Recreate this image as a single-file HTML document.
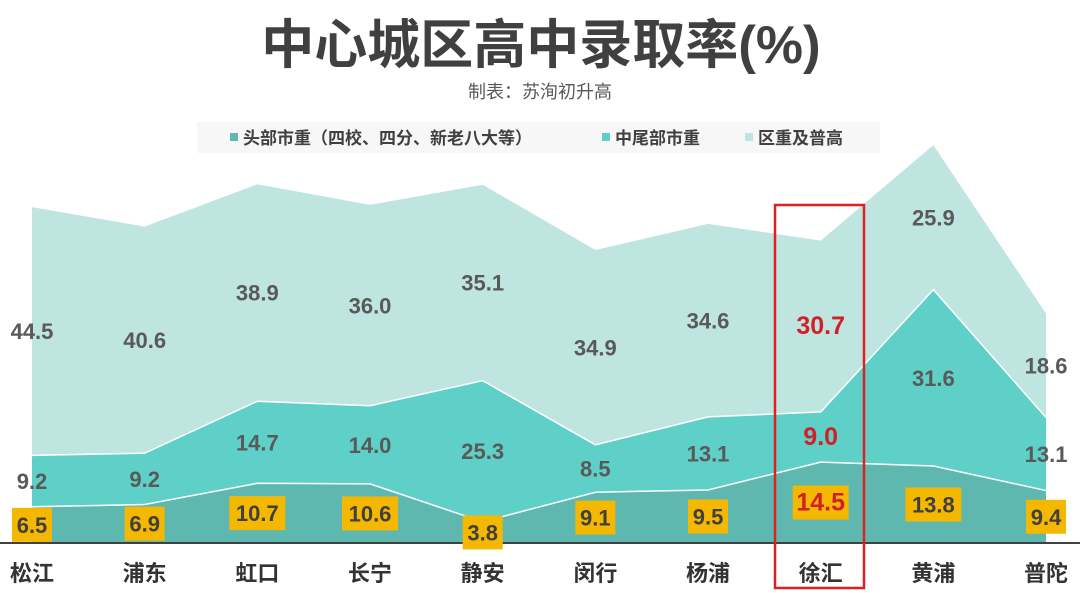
<!DOCTYPE html>
<html><head><meta charset="utf-8"><style>
html,body{margin:0;padding:0;background:#fff;width:1080px;height:593px;overflow:hidden}
svg text{font-family:"Liberation Sans","Noto Sans CJK SC",sans-serif}
</style></head><body>
<svg id="s" width="1080" height="593" xmlns="http://www.w3.org/2000/svg">
<text x="541" y="63" text-anchor="middle" font-size="53" font-weight="bold" fill="#404040">中心城区高中录取率(%)</text>
<text x="540" y="98" text-anchor="middle" font-size="18" fill="#595959">制表：苏洵初升高</text>
<rect x="197" y="122" width="683" height="31" fill="#f7f7f7"/>
<rect x="230" y="133" width="8" height="8" fill="#5fb8b0"/>
<text x="243" y="144" font-size="17" font-weight="bold" fill="#404040">头部市重（四校、四分、新老八大等）</text>
<rect x="602" y="133" width="8" height="8" fill="#5fd0c8"/>
<text x="615" y="144" font-size="17" font-weight="bold" fill="#404040">中尾部市重</text>
<rect x="745" y="133" width="8" height="8" fill="#bfe5e0"/>
<text x="758" y="144" font-size="17" font-weight="bold" fill="#404040">区重及普高</text>
<g id="g"></g>
</svg>
<script>
var names=["松江","浦东","虹口","长宁","静安","闵行","杨浦","徐汇","黄浦","普陀"];
var d=[[6.5,9.2,44.5],[6.9,9.2,40.6],[10.7,14.7,38.9],[10.6,14.0,36.0],[3.8,25.3,35.1],[9.1,8.5,34.9],[9.5,13.1,34.6],[14.5,9.0,30.7],[13.8,31.6,25.9],[9.4,13.1,18.6]];
var base=543,k=5.58,x0=32,dx=112.67;
var g=document.getElementById('g'),h='';
var cols=["#5fb8b0","#5fd0c8","#bfe5e0"];
function X(i){return x0+i*dx}
var cum=d.map(function(r){return [0,r[0],r[0]+r[1],r[0]+r[1]+r[2]]});
for(var L=2;L>=0;L--){
 var p='';
 for(var i=0;i<10;i++)p+=(i?'L':'M')+X(i)+','+(base-cum[i][L+1]*k);
 for(var i=9;i>=0;i--)p+='L'+X(i)+','+(base-cum[i][L]*k);
 h+='<path d="'+p+'Z" fill="'+cols[L]+'"/>';
}
for(var L=1;L<=2;L++){
 h+='<path d="';
 for(var i=0;i<10;i++)h+=(i?'L':'M')+X(i)+','+(base-cum[i][L]*k);
 h+='" fill="none" stroke="#fff" stroke-width="1.5"/>';
}
h+='<line x1="0" y1="'+base+'" x2="1080" y2="'+base+'" stroke="#404040" stroke-width="2"/>';
for(var i=0;i<10;i++){
 var red=i==7,c=red?'#d0202a':'#595959';
 for(var L=0;L<3;L++){
  var y=base-(cum[i][L]+cum[i][L+1])/2*k;
  var t=d[i][L].toFixed(1);
  if(L==0){var w=t.length>3?56:40;h+='<rect x="'+(X(i)-w/2)+'" y="'+(y-17)+'" width="'+w+'" height="34" fill="#f5b800"/>';}
  h+='<text x="'+X(i)+'" y="'+(y+8)+'" text-anchor="middle" font-size="'+(red?25:22)+'" font-weight="bold" fill="'+(L==0&&!red?'#404040':c)+'">'+t+'</text>';
 }
 h+='<text x="'+X(i)+'" y="581" text-anchor="middle" font-size="22" font-weight="bold" fill="#333">'+names[i]+'</text>';
}
h+='<rect x="775" y="205" width="89" height="383" fill="none" stroke="#e02020" stroke-width="2.5"/>';
g.innerHTML=h;
</script>
</body></html>
